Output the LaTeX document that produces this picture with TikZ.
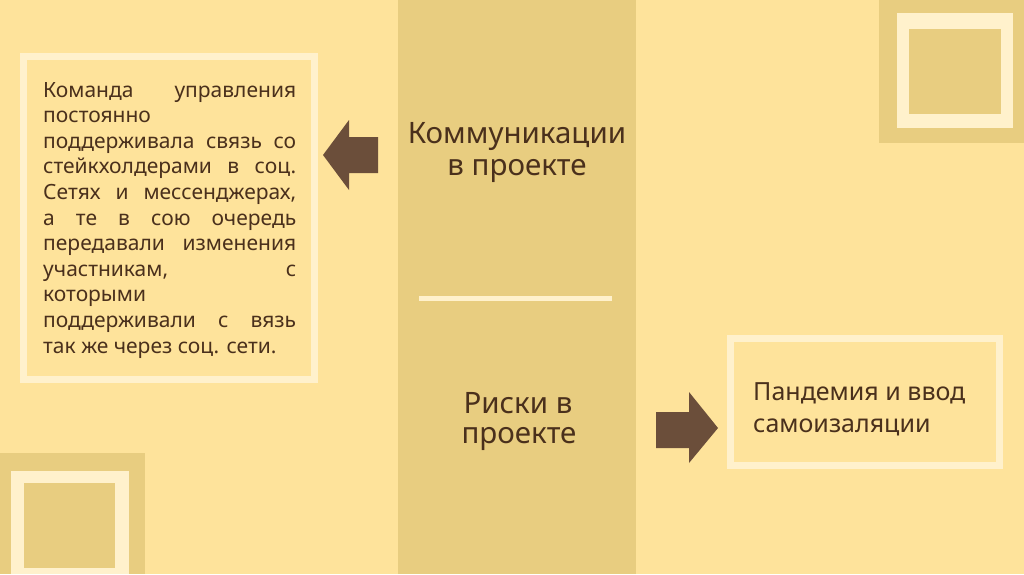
\documentclass[tikz,border=0pt]{standalone}
\usepackage{fontspec}
\setmainfont{Noto Sans}
\definecolor{bgc}{RGB}{254,227,155}
\definecolor{bandc}{RGB}{232,205,128}
\definecolor{creamc}{RGB}{255,241,204}
\definecolor{arrowc}{RGB}{107,78,58}
\definecolor{textc}{RGB}{74,48,28}
\begin{document}
\begin{tikzpicture}[x=1pt,y=-1pt,
  frame/.style={draw=creamc,line width=7pt},
  blockarrow/.style={fill=arrowc,draw=none},
  bodyline/.style={anchor=base west,inner sep=0pt,text=textc,font=\fontsize{21}{25}\selectfont},
  title/.style={anchor=base,inner sep=0pt,text=textc,font=\fontsize{29.5}{32}\selectfont},
  boxtext/.style={anchor=base west,inner sep=0pt,text=textc,font=\fontsize{25}{30}\selectfont}]
\useasboundingbox (0,0) rectangle (1024,574);
\fill[bgc] (0,0) rectangle (1024,574);
% central band
\fill[bandc] (398,0) rectangle (636,574);
% top-right decoration
\fill[bandc] (879,0) rectangle (1024,143);
\fill[creamc] (897,13) rectangle (1013,128);
\fill[bandc] (909,29) rectangle (1001,114);
% bottom-left decoration
\fill[bandc] (0,453) rectangle (145,574);
\fill[creamc] (11,471) rectangle (129,574);
\fill[bandc] (24,483) rectangle (115,568);
% divider
\fill[creamc] (419,296) rectangle (612,301);
% frames
\draw[frame] (23.5,56.5) rectangle (314.5,379.5);
\draw[frame] (730.5,338.5) rectangle (999.5,465.5);
% arrows
\fill[blockarrow] (323,155) -- (349,120) -- (349,137) -- (378,137) -- (378,173) -- (349,173) -- (349,190) -- cycle;
\fill[blockarrow] (718,428) -- (689,392) -- (689,412) -- (656,412) -- (656,448) -- (689,448) -- (689,463) -- cycle;
% left text, one node per line
\foreach \t [count=\i] in {{Команда управления},{постоянно},{поддерживала связь со},{стейкхолдерами в соц.},{Сетях и мессенджерах,},{а те в сою очередь},{передавали изменения},{участникам, с},{которыми},{поддерживали с вязь}}
  \node[bodyline] (l\i) at (43,{97+25.6*(\i-1)}) {\makebox[253pt][s]{\t}};
\node[bodyline] (l11) at (43,{97+25.6*10}) {так же через соц. сети.};
% center titles
\node[title] (t1) at (517,143) {Коммуникации};
\node[title] (t2) at (517,175) {в проекте};
\node[title] (t3) at (518,413) {Риски в};
\node[title] (t4) at (519,443) {проекте};
% right box text
\node[boxtext] (r1) at (753,400) {Пандемия и ввод};
\node[boxtext] (r2) at (753,432) {самоизаляции};
\end{tikzpicture}
\end{document}
